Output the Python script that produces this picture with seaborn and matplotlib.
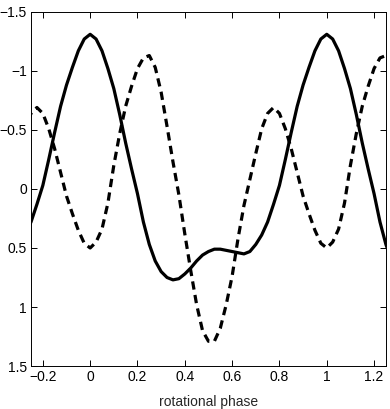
import numpy as np
import pandas as pd
import seaborn as sns
import matplotlib
matplotlib.use("Agg")
import matplotlib.pyplot as plt

# one rotation, every 0.025 in phase (curve repeats each cycle)
phase = [0.000, 0.025, 0.050, 0.075, 0.100, 0.125, 0.150, 0.175, 0.200, 0.225,
         0.250, 0.275, 0.300, 0.325, 0.350, 0.375, 0.400, 0.425, 0.450, 0.475,
         0.500, 0.525, 0.550, 0.575, 0.600, 0.625, 0.650, 0.675, 0.700, 0.725,
         0.750, 0.775, 0.800, 0.825, 0.850, 0.875, 0.900, 0.925, 0.950, 0.975]

solid_curve = [-1.31, -1.27, -1.17, -1.02, -0.85, -0.63, -0.39, -0.17, 0.04, 0.28,
               0.47, 0.61, 0.70, 0.75, 0.77, 0.76, 0.72, 0.67, 0.61, 0.56,
               0.53, 0.51, 0.51, 0.52, 0.53, 0.54, 0.55, 0.53, 0.47, 0.39,
               0.28, 0.13, -0.03, -0.25, -0.48, -0.70, -0.88, -1.03, -1.17, -1.27]

dashed_curve = [0.50, 0.45, 0.34, 0.12, -0.20, -0.47, -0.70, -0.87, -1.02, -1.11,
                -1.13, -1.03, -0.82, -0.53, -0.23, 0.05, 0.38, 0.69, 0.98, 1.20,
                1.29, 1.29, 1.18, 0.98, 0.74, 0.42, 0.14, -0.08, -0.30, -0.51,
                -0.64, -0.69, -0.64, -0.51, -0.34, -0.14, 0.06, 0.21, 0.35, 0.46]

cycles = [-1, 0, 1, 2]

xticks = [-0.2, 0, 0.2, 0.4, 0.6, 0.8, 1, 1.2]
xtick_labels = ["\u22120.2", "0", "0.2", "0.4", "0.6", "0.8", "1", "1.2"]
yticks = [-1.5, -1, -0.5, 0, 0.5, 1, 1.5]
ytick_labels = ["\u22121.5", "\u22121", "\u22120.5", "0", "0.5", "1", "1.5"]

# long table, same cycle repeated so the folded curve runs past 0 and 1
rows = []
for c in cycles:
    for p, s, d in zip(phase, solid_curve, dashed_curve):
        rows.append({"phase": p + c, "value": s, "curve": "solid"})
        rows.append({"phase": p + c, "value": d, "curve": "dashed"})
df = pd.DataFrame(rows)

sns.set_style("ticks")
plt.rcParams["font.family"] = ["Liberation Sans", "DejaVu Sans"]
plt.rcParams["axes.linewidth"] = 0.7
plt.rcParams["xtick.direction"] = "in"
plt.rcParams["ytick.direction"] = "in"

fig = plt.figure(figsize=(3.9, 4.09), dpi=100)
ax = fig.add_axes([0.0795, 0.105, 0.910, 0.866])

sns.lineplot(data=df, x="phase", y="value", style="curve",
             dashes={"solid": "", "dashed": (2.6, 1.7)},
             color="black", linewidth=2.3, estimator=None, sort=True,
             legend=False, ax=ax)

ax.set_xlim(-0.25, 1.25)
ax.set_ylim(1.5, -1.5)
ax.set_xticks(xticks)
ax.set_xticklabels(xtick_labels)
ax.set_yticks(yticks)
ax.set_yticklabels(ytick_labels)
ax.tick_params(axis="both", which="both", top=True, right=True, length=4,
               width=0.7, labelsize=10, pad=3, colors="black")
ax.set_xlabel("rotational phase", fontsize=10, labelpad=8)
ax.set_ylabel("")
for sp in ax.spines.values():
    sp.set_color("black")

fig.savefig("out.png", dpi=100)
